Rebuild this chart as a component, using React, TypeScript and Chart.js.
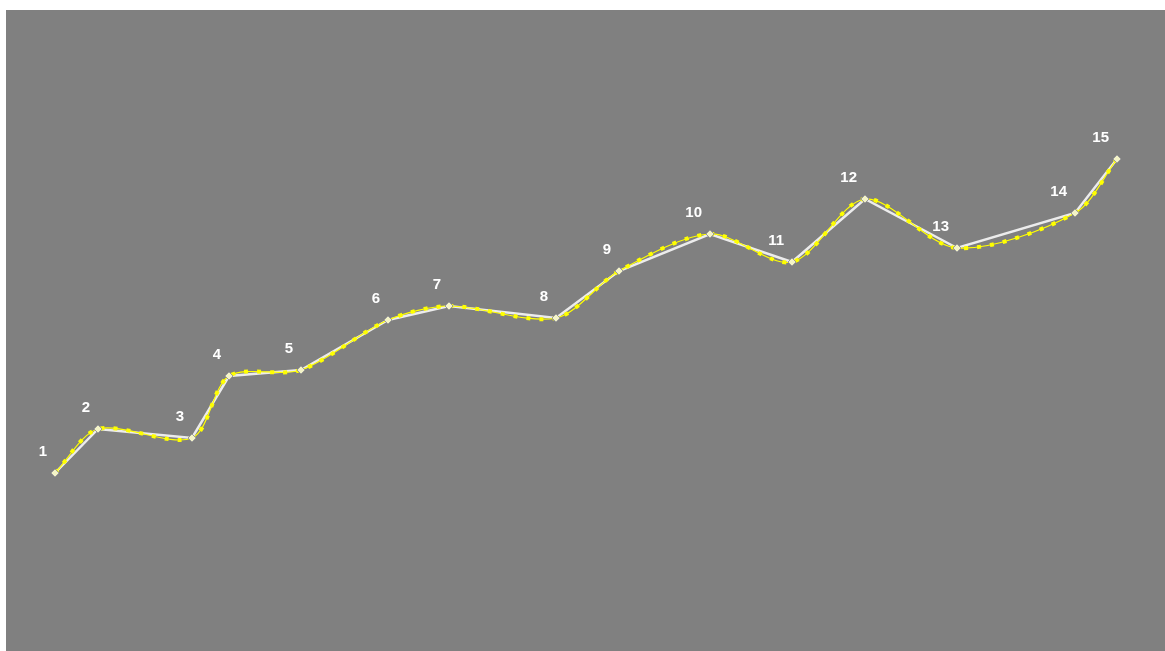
import React, { useEffect, useRef } from "react";
import { Chart, registerables } from "chart.js";

Chart.register(...registerables);

const pointLabels = ["1","2","3","4","5","6","7","8","9","10","11","12","13","14","15"];
const xValues = [49, 92, 186, 223, 295, 382, 443, 550, 613, 704, 786, 859, 951, 1069, 1111];
const yValues = [178, 222, 213, 275, 281, 331, 345, 333, 380, 417, 389, 452, 403, 438, 492];

const labelPlugin = {
  id: "pointNumberLabels",
  afterDatasetsDraw(chart: any) {
    const meta = chart.getDatasetMeta(2);
    const ctx = chart.ctx;
    ctx.save();
    ctx.font = "bold 15px 'Liberation Sans', Arial, sans-serif";
    ctx.fillStyle = "#ffffff";
    ctx.textAlign = "right";
    ctx.textBaseline = "middle";
    meta.data.forEach((pt: any, i: number) => {
      ctx.fillText(pointLabels[i], pt.x - 8, pt.y - 21);
    });
    ctx.restore();
  },
};

export default function App() {
  const ref = useRef<HTMLCanvasElement | null>(null);
  useEffect(() => {
    if (!ref.current) return;
    const pts = xValues.map((x, i) => ({ x, y: yValues[i] }));
    const chart = new Chart(ref.current, {
      type: "scatter",
      data: {
        datasets: [
          {
            data: pts,
            showLine: true,
            borderColor: "#ececec",
            borderWidth: 2.5,
            pointRadius: 0,
            tension: 0,
            order: 3,
          },
          {
            data: pts,
            showLine: true,
            borderColor: "#ffff00",
            borderWidth: 1.2,
            pointRadius: 0,
            tension: 0.3,
            order: 2,
          } as any,
          {
            data: pts,
            showLine: false,
            pointStyle: "rectRot",
            pointRadius: 4,
            pointBackgroundColor: "#f4f4c8",
            pointBorderColor: "#9a9a9a",
            pointBorderWidth: 1,
            order: 0,
          } as any,
          {
            data: pts,
            showLine: true,
            borderColor: "#ffff00",
            borderWidth: 4,
            borderDash: [4, 9],
            borderCapStyle: "butt",
            pointRadius: 0,
            tension: 0.3,
            order: 1,
          } as any,
        ],
      },
      options: {
        animation: false,
        responsive: false,
        maintainAspectRatio: false,
        layout: { padding: 0, autoPadding: false },
        plugins: { legend: { display: false }, tooltip: { enabled: false } },
        scales: {
          x: { type: "linear", min: 0, max: 1159, display: false },
          y: { type: "linear", min: 0, max: 641, display: false },
        },
      },
      plugins: [labelPlugin],
    });
    return () => chart.destroy();
  }, []);
  return (
    <div style={{ position: "absolute", left: 6, top: 10, width: 1159, height: 641, background: "#808080" }}>
      <canvas ref={ref} width={1159} height={641} style={{ display: "block" }} />
    </div>
  );
}
